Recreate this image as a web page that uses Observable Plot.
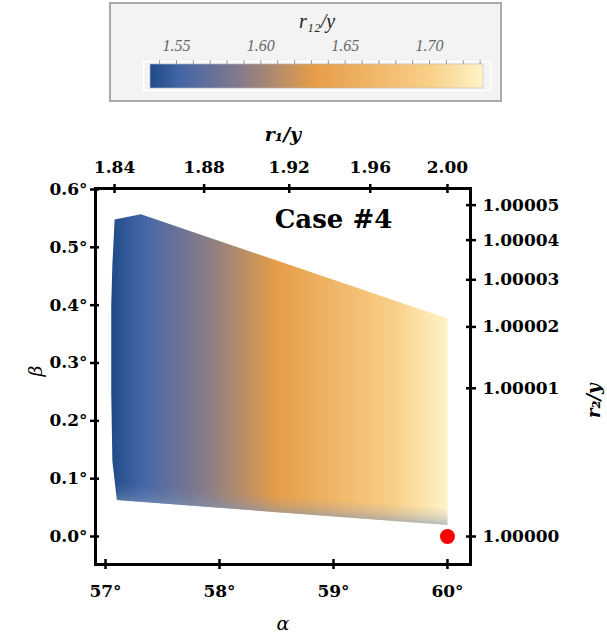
<!DOCTYPE html>
<html><head><meta charset="utf-8">
<script src="https://cdn.jsdelivr.net/npm/d3@7"></script>
<script src="https://cdn.jsdelivr.net/npm/@observablehq/plot@0.6"></script>
<style>
body{margin:0;background:#fff;width:607px;height:634px;position:relative;overflow:hidden;}
#legendBox{position:absolute;left:109px;top:2px;width:389px;height:96px;background:#f3f3f3;border:2px solid #aaa;}
#legend{position:absolute;left:109px;top:2px;}
#main{position:absolute;left:0;top:105px;}
#gradDefs{position:absolute;left:0;top:0;width:0;height:0;}
svg{overflow:visible;}
</style></head><body>
<svg id="gradDefs" xmlns="http://www.w3.org/2000/svg"><defs id="defsHolder"></defs></svg>
<div id="legendBox"></div><div id="legend"></div><div id="main"></div>
<script>
// ---- data ----
const regionAlpha = [57.08, 57.31, 60.00, 60.00, 57.10, 57.09, 57.06, 57.05, 57.05, 57.06];
const regionBeta  = [0.548, 0.557, 0.377, 0.020, 0.063, 0.080, 0.130, 0.250, 0.400, 0.470];
// thin shaded band along the lower boundary of the region
const edgeAlpha = [57.10, 60.00, 60.00, 57.10];
const edgeBeta  = [0.093, 0.050, 0.020, 0.063];
const r12Stops  = [1.5346, 1.553, 1.590, 1.632, 1.700, 1.732];
const r12Colors = ["#1f4b87", "#4466a8", "#887c88", "#e69d48", "#f9cf88", "#fff3c6"];
const r12Major = [1.55, 1.60, 1.65, 1.70];
const r12Minor = [1.54,1.55,1.56,1.57,1.58,1.59,1.60,1.61,1.62,1.63,1.64,1.65,1.66,1.67,1.68,1.69,1.70,1.71,1.72,1.73];
const alphaTicks = [57, 58, 59, 60];
const betaTicks = [0.0, 0.1, 0.2, 0.3, 0.4, 0.5, 0.6];
const r1Ticks = [1.84, 1.88, 1.92, 1.96, 2.00];
const r2Ticks = [1.00000, 1.00001, 1.00002, 1.00003, 1.00004, 1.00005];
const optimum = [{alpha: 60, beta: 0}];
const caseLabel = [{alpha: 59.0, beta: 0.547, text: "Case #4"}];

const FONT = "DejaVu Serif";
const rad = Math.PI / 180;
const secToDeg = v => Math.acos(1 / v) / rad;
const degToSec = d => 1 / Math.cos(d * rad);

const ns = "http://www.w3.org/2000/svg";
const defsHolder = document.getElementById("defsHolder");
function addGradient(id, p1, p2, offsets, colors, opacities) {
  const g = document.createElementNS(ns, "linearGradient");
  g.setAttribute("id", id);
  g.setAttribute("gradientUnits", "userSpaceOnUse");
  g.setAttribute("x1", p1[0]); g.setAttribute("y1", p1[1]);
  g.setAttribute("x2", p2[0]); g.setAttribute("y2", p2[1]);
  offsets.forEach((o, i) => {
    const s = document.createElementNS(ns, "stop");
    s.setAttribute("offset", o);
    s.setAttribute("stop-color", colors[i]);
    if (opacities) s.setAttribute("stop-opacity", opacities[i]);
    g.appendChild(s);
  });
  defsHolder.appendChild(g);
}
function swapFill(root, placeholder, id) {
  root.querySelectorAll("[fill]").forEach(el => {
    if (el.getAttribute("fill").toLowerCase() === placeholder) el.setAttribute("fill", `url(#${id})`);
  });
}
const r0 = r12Stops[0], r1 = r12Stops[r12Stops.length - 1];
const offs = r12Stops.map(v => (v - r0) / (r1 - r0));

// ---- colorbar legend ----
const legend = Plot.plot({
  width: 393, height: 100,
  marginLeft: 41, marginRight: 19, marginTop: 62, marginBottom: 14,
  x: {domain: [r0, r1]},
  style: {background: "transparent", fontFamily: FONT},
  marks: [
    Plot.frame({stroke: "#fff", strokeWidth: 1.5, insetLeft: -7, insetRight: -7, insetTop: -3, insetBottom: -2}),
    Plot.rect([{a: r0, b: r1}], {x1: "a", x2: "b", fill: "#123456", stroke: "#bbb", strokeWidth: 0.6}),
    Plot.axisX({anchor: "top", ticks: r12Minor, tickSize: 4, dy: -1, stroke: "#999", strokeWidth: 1, tickFormat: () => "", label: null}),
    Plot.axisX({anchor: "top", ticks: r12Major, tickSize: 0, tickPadding: 14, tickFormat: d3.format(".2f"),
      fontSize: 16, fontStyle: "italic", fill: "#666", label: null, fontFamily: "Liberation Serif"}),
    Plot.text(["r₁₂/y"], {frameAnchor: "top", dy: -51, fontSize: 20, fontStyle: "italic", fontFamily: "Liberation Serif", fill: "#222"})
  ]
});
const lx = legend.scale("x");
addGradient("cbarGrad", [lx.apply(r0), 0], [lx.apply(r1), 0], offs, r12Colors);
swapFill(legend, "#123456", "cbarGrad");
document.getElementById("legend").appendChild(legend);

// ---- main chart ----
const region = regionAlpha.map((a, i) => ({alpha: a, beta: regionBeta[i]}));
const edge = edgeAlpha.map((a, i) => ({alpha: a, beta: edgeBeta[i]}));
const tickStyle = {stroke: "#000", strokeWidth: 2.5, label: null, tickFormat: () => ""};
const textStyle = {fontSize: 17, fontWeight: "bold", fontFamily: FONT, fill: "#000", tickSize: 0, label: null};

const chart = Plot.plot({
  width: 607, height: 529,
  marginTop: 83, marginRight: 137, marginBottom: 70, marginLeft: 95,
  x: {domain: [56.912, 60.202]},
  y: {domain: [-0.0484, 0.6017]},
  style: {background: "transparent", fontFamily: FONT},
  marks: [
    Plot.line(region, {x: "alpha", y: "beta", curve: "linear-closed", fill: "#654321", stroke: "none"}),
    Plot.line(edge, {x: "alpha", y: "beta", curve: "linear-closed", fill: "#765432", stroke: "none"}),
    Plot.dot(optimum, {x: "alpha", y: "beta", r: 7.5, fill: "#ff0000", stroke: "none"}),
    Plot.text(caseLabel, {x: "alpha", y: "beta", text: "text", fontSize: 26, fontWeight: "bold", fontFamily: FONT, fill: "#000"}),
    Plot.frame({stroke: "#000", strokeWidth: 3}),
    // bottom alpha
    Plot.axisX({anchor: "bottom", ticks: alphaTicks, tickSize: 10, dy: -5, ...tickStyle}),
    Plot.axisX({anchor: "bottom", ticks: alphaTicks, tickPadding: 20, tickFormat: d => d + "°", ...textStyle}),
    // left beta
    Plot.axisY({anchor: "left", ticks: betaTicks, tickSize: 9, dx: 4, ...tickStyle}),
    Plot.axisY({anchor: "left", ticks: betaTicks, tickPadding: 8, tickFormat: d => d.toFixed(1) + "°", ...textStyle}),
    // top r1/y
    Plot.axisX({anchor: "top", ticks: r1Ticks.map(secToDeg), tickSize: 9, dy: 4, ...tickStyle}),
    Plot.axisX({anchor: "top", ticks: r1Ticks.map(secToDeg), tickPadding: 16, tickFormat: d => degToSec(d).toFixed(2), ...textStyle}),
    // right r2/y
    Plot.axisY({anchor: "right", ticks: r2Ticks.map(secToDeg), tickSize: 10, dx: -5, ...tickStyle}),
    Plot.axisY({anchor: "right", ticks: r2Ticks.map(secToDeg), tickPadding: 12, tickFormat: d => degToSec(d).toFixed(5), ...textStyle}),
    // axis titles
    Plot.text(["r₁/y"], {frameAnchor: "top", dy: -61, fontSize: 19, fontWeight: "bold", fontStyle: "italic", fontFamily: FONT}),
    Plot.text(["α"], {frameAnchor: "bottom", dy: 65, fontSize: 19, fontStyle: "italic", fontFamily: FONT}),
    Plot.text(["β"], {frameAnchor: "left", dx: -60, rotate: -90, fontSize: 19, fontStyle: "italic", fontFamily: FONT}),
    Plot.text(["r₂/y"], {frameAnchor: "right", dx: 124, dy: 7, rotate: -90, fontSize: 18, fontWeight: "bold", fontStyle: "italic", fontFamily: FONT})
  ]
});
const xs = chart.scale("x"), ys = chart.scale("y");
addGradient("regionGrad", [xs.apply(d3.min(regionAlpha)), 0], [xs.apply(d3.max(regionAlpha)), 0], offs, r12Colors);
// gradient for the lower-boundary band: perpendicular to the boundary (upper band edge -> boundary)
{
  const A = [xs.apply(edgeAlpha[3]), ys.apply(edgeBeta[3])];
  const B = [xs.apply(edgeAlpha[2]), ys.apply(edgeBeta[2])];
  const T = [xs.apply(edgeAlpha[0]), ys.apply(edgeBeta[0])];
  const dx = B[0] - A[0], dy = B[1] - A[1], L = Math.hypot(dx, dy);
  const n = [-dy / L, dx / L];
  const t = Math.abs((T[0] - A[0]) * n[0] + (T[1] - A[1]) * n[1]);
  addGradient("edgeGrad", [A[0] - n[0] * t, A[1] - n[1] * t], A, [0, 0.6, 1], ["#7f95b8", "#7f95b8", "#7f95b8"], [0, 0.25, 0.55]);
}
swapFill(chart, "#654321", "regionGrad");
swapFill(chart, "#765432", "edgeGrad");
document.getElementById("main").appendChild(chart);
</script>
</body></html>
